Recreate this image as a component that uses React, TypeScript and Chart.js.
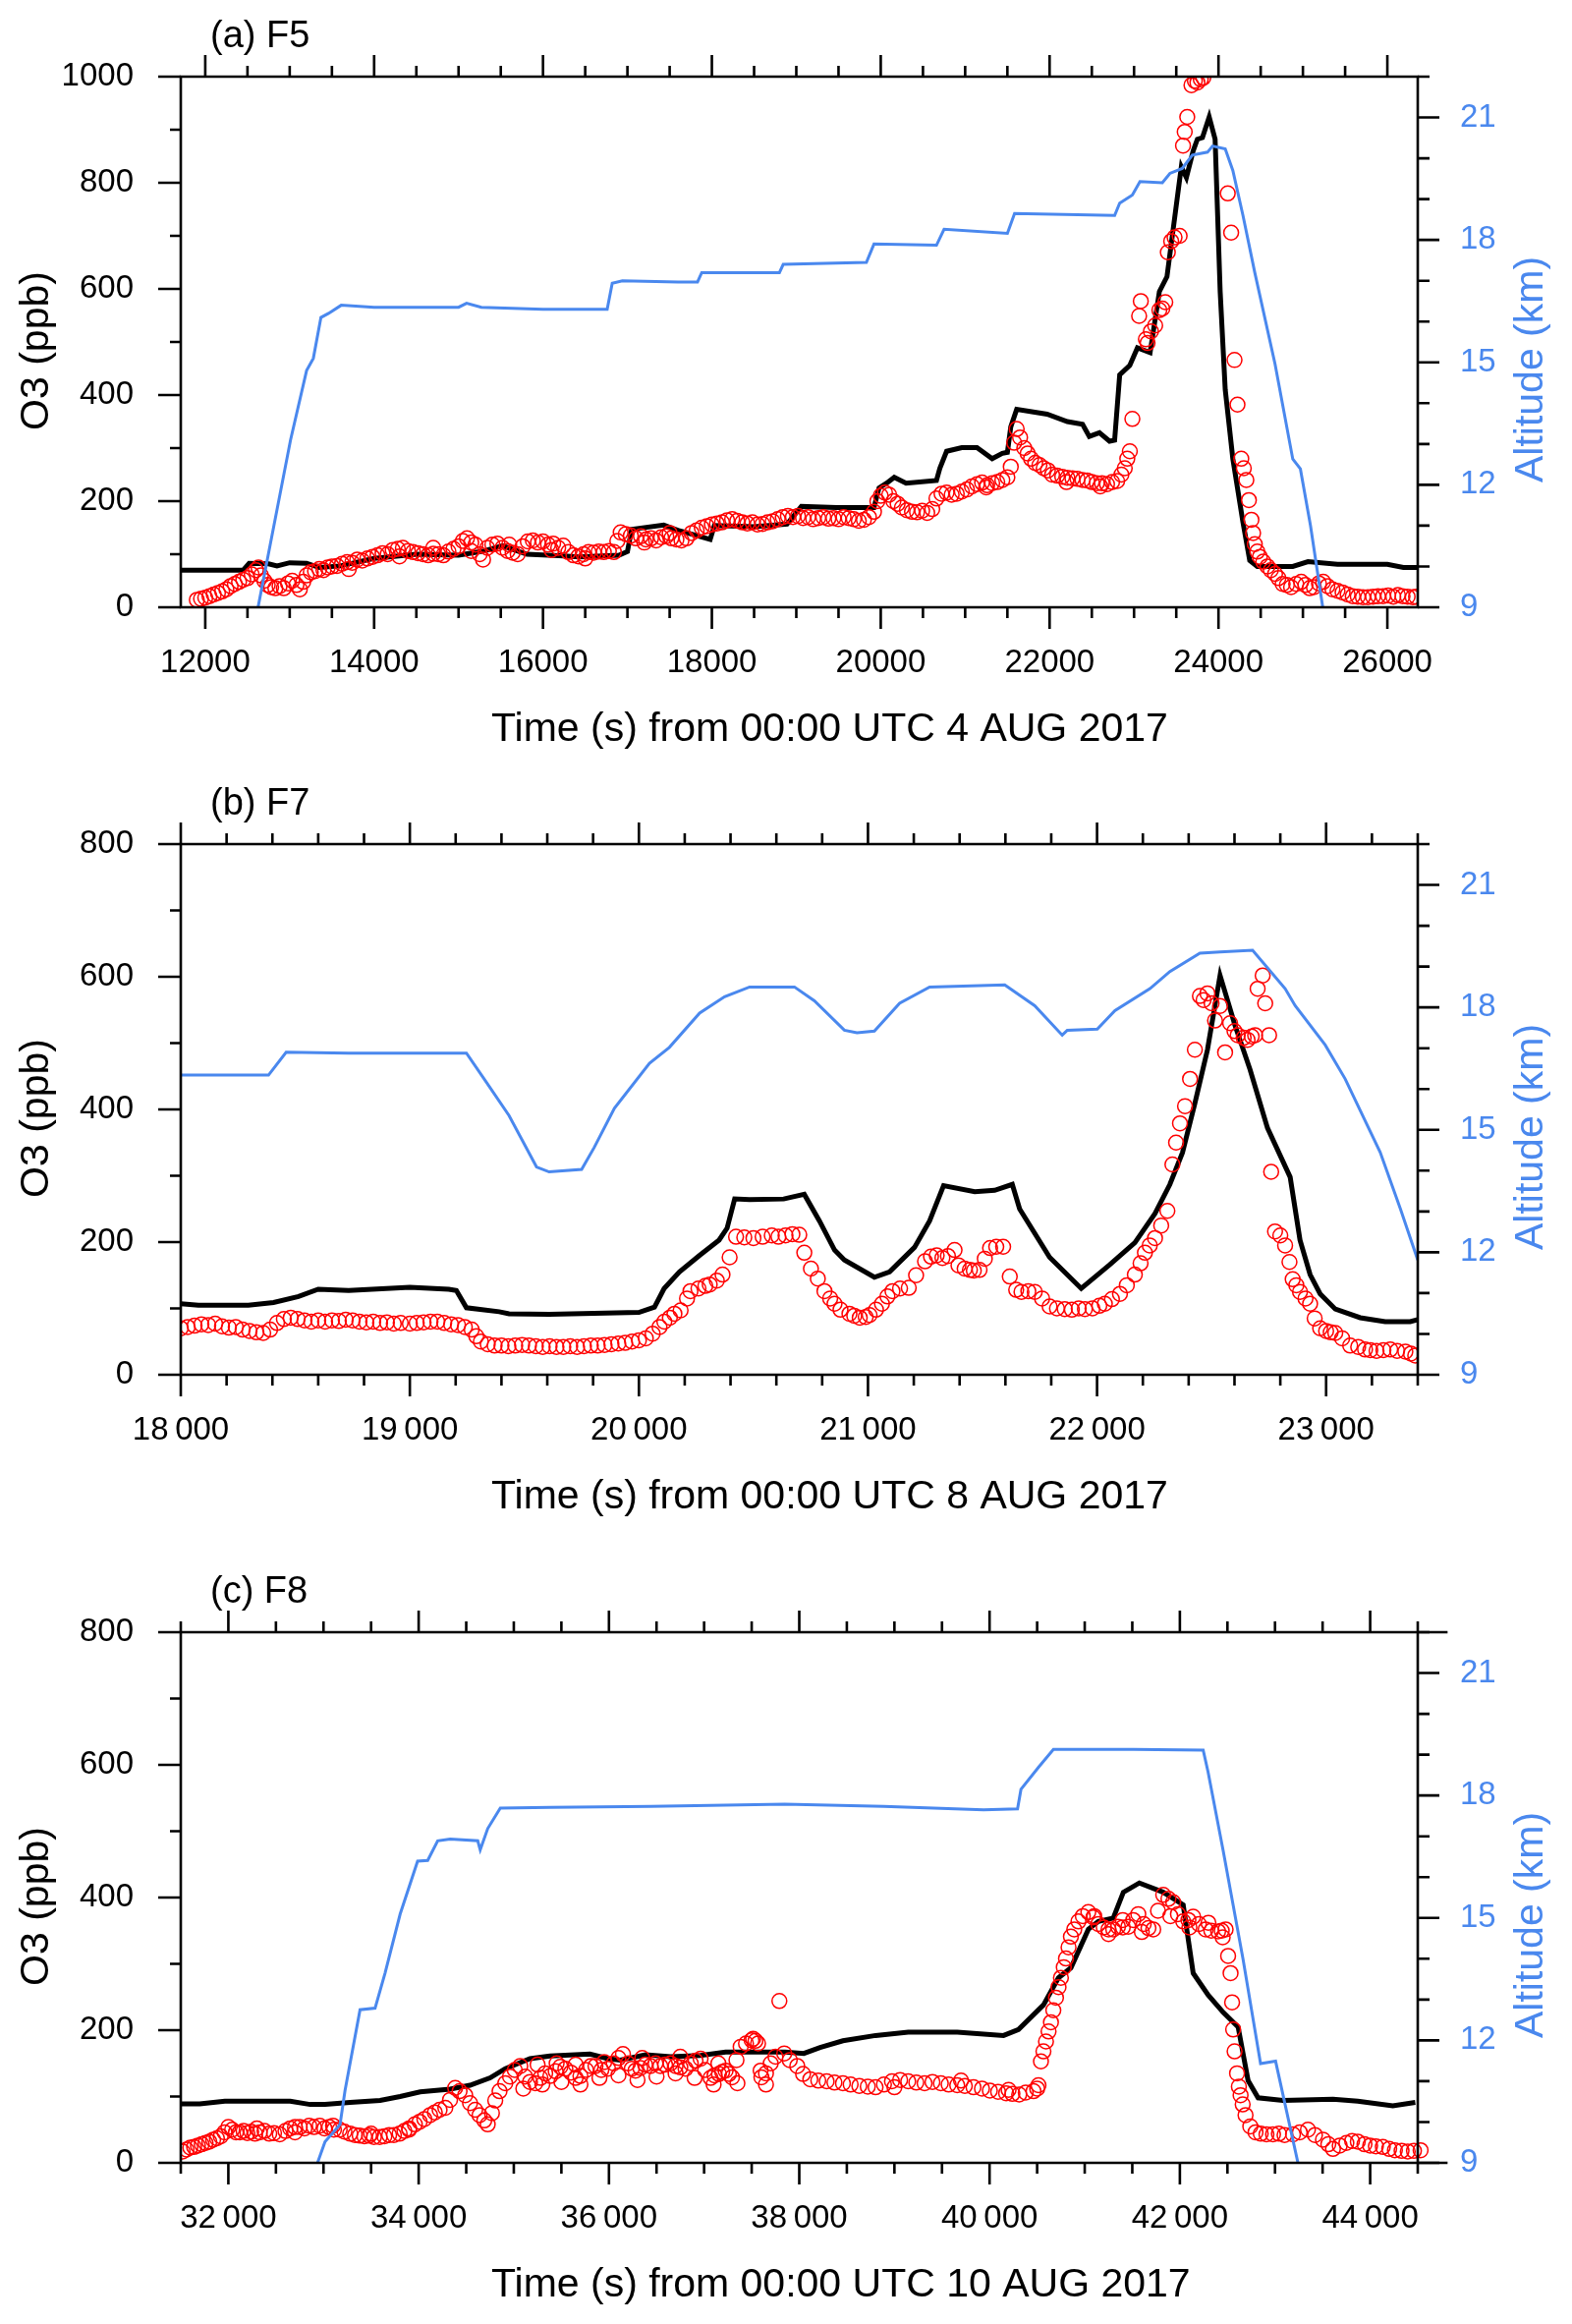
import React, { useEffect, useRef } from "react";
import { Chart, registerables } from "chart.js";

Chart.register(...registerables);

const FONT = "'Liberation Sans', Arial, Helvetica, sans-serif";
const BLUE = "#4a88ee";
const RED = "#ff0000";

// ---------- (a) F5, 4 AUG 2017 ----------
const f5ModelT = [11710, 12450, 12520, 12750, 12850, 13000, 13200, 13350, 13600, 14000, 14500, 15000, 15300, 15520, 15810, 16190, 16430, 16900, 17000, 17050, 17430, 17620, 17980, 18030, 18500, 18890, 19060, 19480, 19920, 19980, 20070, 20160, 20300, 20660, 20700, 20780, 20960, 21140, 21320, 21440, 21500, 21540, 21610, 21970, 22210, 22390, 22470, 22590, 22710, 22770, 22830, 22950, 23040, 23190, 23300, 23390, 23560, 23620, 23700, 23750, 23810, 23890, 23960, 24020, 24080, 24170, 24290, 24370, 24460, 24880, 25060, 25410, 26000, 26190, 26360];
const f5ModelO3 = [70, 70, 83, 82, 78, 84, 83, 75, 78, 92, 100, 98, 106, 116, 100, 97, 95, 98, 105, 147, 155, 144, 128, 154, 152, 157, 190, 188, 188, 225, 234, 245, 234, 239, 262, 294, 301, 301, 280, 290, 292, 340, 373, 364, 350, 345, 322, 329, 313, 315, 438, 456, 489, 480, 595, 623, 830, 810, 860, 882, 885, 924, 882, 595, 410, 280, 160, 88, 77, 77, 86, 81, 81, 75, 75];
const f5ObsT = [11900, 11950, 12000, 12050, 12100, 12150, 12200, 12250, 12300, 12350, 12400, 12450, 12500, 12550, 12600, 12630, 12660, 12700, 12740, 12780, 12830, 12880, 12930, 12980, 13030, 13080, 13120, 13160, 13200, 13250, 13300, 13350, 13400, 13450, 13500, 13560, 13620, 13680, 13740, 13800, 13860, 13920, 13980, 14040, 14100, 14160, 14220, 14280, 14340, 14400, 14460, 14520, 14580, 14640, 14700, 14760, 14820, 14880, 14940, 15000, 15050, 15100, 15150, 15200, 15250, 15290, 15340, 15400, 15460, 15520, 15580, 15640, 15700, 15760, 15820, 15880, 15940, 16000, 16060, 16120, 16180, 16240, 16300, 16360, 16420, 16480, 16540, 16600, 16660, 16720, 16780, 16840, 16880, 16920, 16980, 17040, 17100, 17160, 17220, 17280, 17340, 17400, 17460, 17520, 17580, 17640, 17700, 17760, 17820, 17880, 17940, 18000, 18060, 18120, 18180, 18240, 18300, 18360, 18420, 18480, 18540, 18600, 18660, 18720, 18780, 18840, 18900, 18960, 19020, 19080, 19140, 19200, 19260, 19320, 19380, 19440, 19500, 19560, 19620, 19680, 19740, 19800, 19860, 19920, 19960, 20000, 20050, 20100, 20150, 20200, 20250, 20310, 20370, 20430, 20490, 20550, 20610, 20660, 20720, 20780, 20840, 20900, 20960, 21020, 21080, 21140, 21200, 21260, 21320, 21380, 21440, 21500, 21540, 21580, 21610, 21650, 21700, 21740, 21780, 21830, 21880, 21930, 21980, 22030, 22090, 22150, 22210, 22270, 22330, 22390, 22445, 22500, 22560, 22620, 22680, 22740, 22800, 22850, 22890, 22920, 22950, 22980, 23060, 23080, 23140, 23160, 23200, 23250, 23300, 23335, 23370, 23400, 23440, 23480, 23540, 23580, 23600, 23630, 23680, 23720, 23750, 23790, 23820, 24110, 24150, 24190, 24225, 24270, 24300, 24330, 24360, 24390, 24410, 24430, 24460, 24490, 24530, 24580, 24620, 24670, 24710, 24760, 24810, 24860, 24920, 24980, 25030, 25080, 25130, 25190, 25240, 25290, 25350, 25410, 25470, 25530, 25590, 25650, 25710, 25770, 25830, 25890, 25950, 26010, 26070, 26125, 26180, 26240, 26300, 26340, 13700, 14300, 14700, 15150, 15600, 16100, 16500, 17200, 17500, 21250, 22200, 22600];
const f5ObsO3 = [14, 16, 18, 21, 24, 27, 30, 34, 40, 44, 48, 52, 55, 62, 70, 75, 60, 50, 42, 38, 36, 40, 36, 45, 50, 42, 34, 48, 60, 66, 68, 72, 70, 75, 77, 78, 82, 85, 84, 90, 88, 92, 95, 98, 102, 100, 108, 110, 112, 106, 104, 102, 100, 98, 101, 100, 98, 105, 110, 115, 125, 130, 122, 118, 100, 90, 112, 118, 120, 112, 106, 103, 100, 115, 124, 126, 122, 124, 118, 120, 112, 116, 104, 98, 96, 100, 104, 103, 105, 104, 106, 104, 125, 141, 138, 135, 130, 134, 128, 130, 126, 132, 134, 130, 128, 126, 130, 140, 145, 150, 153, 156, 158, 160, 164, 166, 163, 160, 158, 160, 156, 157, 160, 162, 166, 170, 172, 170, 172, 168, 170, 166, 168, 170, 167, 168, 166, 170, 168, 166, 163, 165, 170, 180, 200, 210, 216, 212, 200, 195, 188, 183, 180, 179, 182, 178, 185, 205, 214, 216, 212, 214, 218, 222, 228, 232, 235, 230, 234, 236, 240, 245, 265, 310, 336, 320, 300, 290, 280, 272, 268, 262, 258, 250, 248, 246, 244, 243, 242, 240, 239, 236, 234, 234, 232, 236, 238, 250, 262, 280, 294, 355, 549, 577, 505, 498, 520, 531, 560, 563, 575, 669, 690, 697, 700, 870, 896, 924, 984, 992, 989, 995, 998, 780, 706, 466, 382, 280, 262, 240, 202, 165, 140, 119, 105, 95, 86, 77, 70, 63, 55, 44, 42, 38, 44, 48, 42, 36, 38, 45, 48, 40, 34, 31, 28, 24, 21, 20, 19, 19, 20, 21, 21, 22, 20, 23, 21, 20, 19, 20, 72, 96, 112, 106, 118, 108, 92, 122, 140, 226, 236, 228];
const f5AltT = [12625, 13010, 13200, 13280, 13370, 13460, 13610, 14000, 15000, 15095, 15270, 16000, 16760, 16820, 16940, 17600, 17830, 17880, 18800, 18845, 19830, 19920, 20660, 20750, 21500, 21585, 22770, 22830, 22980, 23070, 23335, 23425, 23570, 23690, 23870, 23930, 24080, 24170, 24290, 24430, 24670, 24880, 24970, 25090, 25235];
const f5AltKm = [9.0, 13.1, 14.8, 15.1, 16.1, 16.2, 16.4, 16.35, 16.35, 16.45, 16.35, 16.3, 16.3, 16.94, 17.0, 16.97, 16.97, 17.2, 17.2, 17.4, 17.45, 17.9, 17.87, 18.26, 18.16, 18.65, 18.6, 18.9, 19.1, 19.43, 19.4, 19.63, 19.75, 20.08, 20.15, 20.3, 20.23, 19.7, 18.6, 17.2, 14.96, 12.63, 12.39, 11.0, 9.0];
const f5XTicks = [12000, 14000, 16000, 18000, 20000, 22000, 24000, 26000];
const f5XLabels = ["12000", "14000", "16000", "18000", "20000", "22000", "24000", "26000"];
const f5YTicks = [0, 200, 400, 600, 800, 1000];

// ---------- (b) F7, 8 AUG 2017 ----------
const f7ModelT = [18000, 18077, 18295, 18405, 18514, 18600, 18733, 19000, 19170, 19203, 19247, 19390, 19433, 19608, 20000, 20068, 20110, 20177, 20265, 20350, 20385, 20418, 20483, 20632, 20722, 20788, 20854, 20897, 21028, 21094, 21203, 21269, 21330, 21466, 21553, 21630, 21662, 21793, 21931, 22056, 22165, 22253, 22318, 22373, 22427, 22482, 22537, 22602, 22668, 22744, 22843, 22886, 22930, 22974, 23040, 23149, 23258, 23367, 23400];
const f7ModelO3 = [107, 105, 105, 109, 118, 129, 127, 132, 129, 127, 101, 95, 92, 91, 94, 102, 130, 155, 180, 203, 221, 265, 264, 265, 272, 232, 188, 173, 147, 155, 192, 232, 285, 276, 278, 287, 250, 177, 130, 166, 199, 243, 287, 335, 409, 490, 602, 527, 460, 372, 298, 203, 151, 122, 99, 86, 80, 80, 83];
const f7ObsT = [18000, 18030, 18060, 18090, 18120, 18150, 18180, 18210, 18240, 18270, 18300, 18330, 18360, 18390, 18420, 18450, 18480, 18510, 18540, 18570, 18600, 18630, 18660, 18690, 18720, 18750, 18780, 18810, 18840, 18870, 18900, 18930, 18960, 19000, 19030, 19060, 19090, 19120, 19150, 19180, 19210, 19240, 19270, 19290, 19310, 19340, 19370, 19400, 19430, 19460, 19490, 19520, 19550, 19580, 19610, 19640, 19670, 19700, 19730, 19760, 19790, 19820, 19850, 19880, 19910, 19940, 19970, 20000, 20030, 20060, 20090, 20111, 20135, 20155, 20182, 20210, 20225, 20260, 20290, 20309, 20340, 20365, 20396, 20424, 20460, 20500, 20540, 20580, 20609, 20640, 20670, 20700, 20722, 20751, 20781, 20810, 20835, 20854, 20880, 20919, 20940, 20964, 20990, 21007, 21035, 21061, 21085, 21107, 21140, 21178, 21210, 21249, 21275, 21300, 21325, 21349, 21378, 21395, 21422, 21445, 21462, 21487, 21510, 21533, 21560, 21590, 21619, 21647, 21670, 21700, 21728, 21760, 21793, 21825, 21859, 21890, 21920, 21947, 21980, 22010, 22034, 22065, 22100, 22130, 22165, 22190, 22209, 22230, 22253, 22280, 22307, 22329, 22345, 22362, 22384, 22406, 22427, 22449, 22465, 22482, 22500, 22515, 22537, 22559, 22581, 22600, 22614, 22640, 22657, 22675, 22690, 22701, 22723, 22734, 22751, 22760, 22777, 22800, 22821, 22840, 22854, 22870, 22886, 22910, 22930, 22950, 22974, 23000, 23020, 23040, 23070, 23105, 23140, 23170, 23193, 23220, 23250, 23280, 23310, 23346, 23370, 23389];
const f7ObsO3 = [70, 72, 74, 76, 75, 77, 73, 71, 72, 68, 66, 64, 63, 68, 78, 84, 86, 84, 82, 80, 82, 80, 82, 81, 83, 82, 80, 79, 80, 78, 79, 77, 78, 77, 78, 79, 80, 80, 78, 76, 75, 72, 68, 58, 50, 46, 44, 44, 43, 44, 45, 44, 43, 42, 43, 42, 42, 43, 42, 43, 44, 44, 45, 46, 47, 48, 50, 52, 55, 62, 72, 80, 86, 92, 97, 115, 126, 130, 134, 136, 142, 151, 177, 208, 207, 206, 208, 210, 208, 210, 212, 211, 184, 160, 145, 126, 115, 107, 98, 92, 89, 86, 87, 90, 98, 107, 118, 126, 130, 131, 150, 171, 178, 180, 176, 179, 188, 165, 160, 158, 157, 158, 175, 191, 193, 193, 148, 128, 125, 126, 125, 115, 103, 100, 99, 98, 100, 99, 100, 104, 107, 114, 122, 135, 151, 168, 184, 195, 206, 225, 247, 317, 350, 379, 405, 446, 490, 571, 565, 575, 560, 534, 556, 486, 530, 518, 512, 508, 505, 510, 512, 582, 602, 560, 512, 306, 216, 210, 195, 170, 144, 135, 125, 115, 107, 85, 70, 66, 64, 63, 55, 44, 42, 38, 37, 36, 37, 38, 36, 35, 32, 29];
const f7AltT = [18000, 18383, 18460, 18733, 19247, 19324, 19433, 19553, 19608, 19750, 19805, 19893, 20046, 20133, 20265, 20374, 20483, 20593, 20679, 20766, 20897, 20952, 21028, 21138, 21269, 21597, 21728, 21848, 21870, 22001, 22078, 22231, 22318, 22449, 22537, 22679, 22821, 22865, 22996, 23083, 23236, 23324, 23400];
const f7AltKm = [16.34, 16.34, 16.9, 16.88, 16.88, 16.25, 15.35, 14.09, 13.97, 14.03, 14.57, 15.53, 16.63, 17.02, 17.86, 18.26, 18.5, 18.5, 18.5, 18.16, 17.44, 17.38, 17.42, 18.1, 18.5, 18.55, 18.04, 17.32, 17.44, 17.47, 17.92, 18.46, 18.88, 19.33, 19.36, 19.4, 18.46, 18.04, 17.08, 16.25, 14.45, 13.07, 11.81];
const f7XTicks = [18000, 19000, 20000, 21000, 22000, 23000];
const f7XLabels = ["18\u2009000", "19\u2009000", "20\u2009000", "21\u2009000", "22\u2009000", "23\u2009000"];
const f7YTicks = [0, 200, 400, 600, 800];

// ---------- (c) F8, 10 AUG 2017 ----------
const f8ModelT = [31505, 31700, 31963, 32650, 32860, 33016, 33280, 33595, 33805, 34016, 34330, 34540, 34750, 34910, 35170, 35380, 35800, 35990, 36120, 36384, 36650, 36960, 37226, 37490, 37850, 38048, 38219, 38459, 38802, 39145, 39660, 40147, 40304, 40566, 40724, 40855, 41038, 41143, 41300, 41406, 41574, 41825, 42035, 42140, 42297, 42455, 42612, 42717, 42822, 43084, 43609, 43870, 44238, 44474];
const f8ModelO3 = [89, 89, 93, 93, 88, 88, 91, 94, 100, 107, 111, 117, 128, 142, 157, 161, 164, 157, 155, 163, 160, 162, 167, 167, 167, 165, 174, 184, 192, 197, 197, 192, 201, 238, 279, 294, 352, 364, 369, 408, 422, 408, 389, 286, 253, 227, 205, 124, 98, 94, 96, 93, 86, 91];
const f8ObsT = [31520, 31560, 31600, 31640, 31680, 31720, 31760, 31800, 31840, 31880, 31920, 31960, 32000, 32040, 32080, 32120, 32160, 32200, 32240, 32280, 32330, 32380, 32430, 32480, 32540, 32600, 32650, 32700, 32750, 32800, 32850, 32900, 32960, 33010, 33060, 33110, 33170, 33220, 33280, 33330, 33380, 33430, 33480, 33530, 33590, 33640, 33690, 33740, 33800, 33850, 33900, 33960, 34010, 34060, 34120, 34170, 34220, 34280, 34330, 34384, 34430, 34489, 34540, 34594, 34640, 34690, 34726, 34770, 34805, 34850, 34910, 34960, 35010, 35068, 35120, 35170, 35226, 35280, 35330, 35384, 35440, 35490, 35542, 35600, 35650, 35700, 35760, 35810, 35858, 35920, 35990, 36050, 36100, 36147, 36200, 36240, 36279, 36330, 36380, 36437, 36490, 36540, 36590, 36647, 36700, 36750, 36805, 36860, 36910, 36963, 37010, 37068, 37110, 37156, 37190, 37226, 37260, 37293, 37340, 37384, 37440, 37499, 37515, 37540, 37567, 37594, 37602, 37650, 37700, 37750, 37791, 37842, 37900, 37979, 38040, 38116, 38200, 38288, 38370, 38459, 38540, 38631, 38720, 38802, 38890, 38974, 39060, 39145, 39230, 39317, 39400, 39488, 39570, 39660, 39740, 39831, 39920, 40003, 40090, 40174, 40240, 40311, 40380, 40462, 40500, 40514, 40540, 40566, 40593, 40620, 40645, 40670, 40698, 40725, 40750, 40780, 40803, 40830, 40855, 40890, 40934, 40980, 41038, 41090, 41143, 41200, 41250, 41300, 41350, 41400, 41458, 41510, 41563, 41620, 41670, 41720, 41770, 41825, 41880, 41930, 41980, 42035, 42090, 42140, 42200, 42271, 42330, 42402, 42440, 42481, 42507, 42533, 42549, 42560, 42575, 42601, 42620, 42638, 42660, 42690, 42740, 42795, 42850, 42910, 42979, 43040, 43100, 43189, 43260, 43346, 43420, 43504, 43560, 43609, 43680, 43750, 43810, 43870, 43940, 44000, 44060, 44133, 44200, 44260, 44330, 44395, 44460, 44530, 44600, 44657, 44720, 44789, 32300, 32700, 33100, 33500, 33900, 35100, 35300, 35500, 35700, 35900, 36100, 36300, 36500, 36700, 36900, 37100, 37350, 37650, 35250, 35450, 35650, 35950, 36350, 36750, 37150, 41100, 41250, 41400, 41600, 41900, 42100, 42300, 42450, 39000, 39700, 40200];
const f8ObsO3 = [17, 20, 23, 24, 26, 28, 30, 32, 35, 37, 40, 46, 54, 50, 46, 46, 48, 45, 47, 44, 46, 48, 44, 45, 43, 48, 52, 54, 54, 52, 56, 54, 56, 52, 54, 50, 50, 47, 44, 42, 41, 40, 41, 39, 39, 40, 42, 42, 44, 48, 52, 58, 62, 66, 72, 76, 80, 83, 95, 113, 108, 102, 90, 80, 72, 64, 58, 75, 94, 108, 120, 130, 140, 146, 130, 122, 120, 128, 135, 131, 138, 145, 142, 136, 128, 131, 140, 146, 146, 140, 142, 150, 158, 164, 150, 142, 139, 143, 148, 146, 150, 146, 148, 150, 146, 144, 142, 150, 154, 157, 140, 128, 132, 134, 137, 139, 134, 129, 155, 175, 180, 185, 187, 184, 180, 139, 129, 135, 150, 160, 244, 165, 155, 146, 134, 126, 124, 123, 121, 120, 118, 116, 115, 114, 118, 123, 125, 123, 121, 120, 122, 120, 118, 117, 116, 114, 112, 109, 107, 105, 104, 103, 106, 108, 112, 117, 153, 168, 183, 198, 212, 230, 249, 265, 279, 295, 308, 325, 341, 352, 364, 372, 378, 370, 360, 355, 352, 352, 356, 355, 356, 366, 375, 360, 354, 352, 380, 404, 398, 393, 375, 364, 366, 371, 360, 352, 350, 349, 350, 352, 312, 286, 242, 201, 168, 135, 115, 102, 88, 72, 55, 46, 44, 43, 43, 44, 42, 43, 46, 50, 42, 35, 28, 21, 26, 30, 33, 32, 28, 26, 25, 24, 21, 19, 18, 17, 18, 19, 20, 19, 18, 19, 52, 46, 56, 44, 50, 112, 118, 122, 118, 128, 132, 125, 130, 135, 128, 118, 120, 118, 148, 150, 148, 152, 158, 160, 150, 372, 345, 366, 348, 372, 355, 362, 340, 114, 124, 110];
const f8AltT = [32937, 33016, 33174, 33226, 33384, 33542, 33647, 33805, 33989, 34095, 34200, 34331, 34621, 34647, 34726, 34858, 35384, 36437, 37847, 38888, 39937, 40294, 40330, 40514, 40671, 41511, 42245, 42297, 42455, 42664, 42848, 43006, 43241];
const f8AltKm = [9.0, 9.52, 9.94, 10.77, 12.75, 12.79, 13.65, 15.09, 16.39, 16.41, 16.89, 16.93, 16.89, 16.67, 17.19, 17.69, 17.71, 17.73, 17.79, 17.73, 17.65, 17.67, 18.15, 18.69, 19.13, 19.13, 19.11, 18.57, 16.65, 13.99, 11.43, 11.49, 9.0];
const f8XTicks = [32000, 34000, 36000, 38000, 40000, 42000, 44000];
const f8XLabels = ["32\u2009000", "34\u2009000", "36\u2009000", "38\u2009000", "40\u2009000", "42\u2009000", "44\u2009000"];
const f8YTicks = [0, 200, 400, 600, 800];

const altTicks = [9, 12, 15, 18, 21];

interface FrameOpts {
  label: string;
  xTitle: string;
  xMajor: number[];
  xMinorStep: number;
  yMajor: number[];
  xEdge?: number;
}

// draws the box, outward tick marks, and the titles
const framePlugin = {
  id: "frame",
  afterDraw(chart: any, _args: any, opts: FrameOpts) {
    const { ctx, chartArea: a, scales } = chart;
    const x = scales.x;
    const y = scales.y;
    const y2 = scales.y2;
    const edge = opts.xEdge !== undefined ? x.getPixelForValue(opts.xEdge) : a.right;
    ctx.save();
    ctx.strokeStyle = "#000";
    ctx.lineWidth = 2.6;
    ctx.lineCap = "square";
    ctx.beginPath();
    ctx.moveTo(a.left, a.top);
    ctx.lineTo(edge, a.top);
    ctx.moveTo(a.left, a.bottom);
    ctx.lineTo(edge, a.bottom);
    ctx.moveTo(a.left, a.top);
    ctx.lineTo(a.left, a.bottom);
    ctx.moveTo(a.right, a.top);
    ctx.lineTo(a.right, a.bottom);
    ctx.stroke();

    ctx.lineCap = "butt";
    ctx.beginPath();
    const step = opts.xMinorStep;
    for (let v = Math.ceil(x.min / step) * step; v <= x.max + 0.1; v += step) {
      const px = x.getPixelForValue(v);
      const len = opts.xMajor.includes(v) ? 22 : 11;
      ctx.moveTo(px, a.bottom);
      ctx.lineTo(px, a.bottom + len);
      ctx.moveTo(px, a.top);
      ctx.lineTo(px, a.top - len);
    }
    for (let v = y.min; v <= y.max + 0.1; v += 100) {
      const py = y.getPixelForValue(v);
      const len = opts.yMajor.includes(v) ? 23 : 11;
      ctx.moveTo(a.left, py);
      ctx.lineTo(a.left - len, py);
    }
    for (let v = y2.min; v <= y2.max + 0.01; v += 1) {
      const py = y2.getPixelForValue(v);
      const len = altTicks.includes(v) ? 22 : 12;
      ctx.moveTo(a.right, py);
      ctx.lineTo(a.right + len, py);
    }
    ctx.stroke();

    ctx.fillStyle = "#000";
    ctx.textBaseline = "alphabetic";
    ctx.textAlign = "left";
    ctx.font = `38px ${FONT}`;
    ctx.fillText(opts.label, 214, a.top - 30);
    ctx.font = `41px ${FONT}`;
    ctx.fillText(opts.xTitle, 500, a.bottom + 136);

    const cy = (a.top + a.bottom) / 2;
    ctx.textAlign = "center";
    ctx.save();
    ctx.translate(49, cy + 9);
    ctx.rotate(-Math.PI / 2);
    ctx.fillText("O3 (ppb)", 0, 0);
    ctx.restore();
    ctx.save();
    ctx.fillStyle = BLUE;
    ctx.translate(1570, cy + 28);
    ctx.rotate(-Math.PI / 2);
    ctx.fillText("Altitude (km)", 0, 0);
    ctx.restore();
    ctx.restore();
  },
};

interface PanelProps {
  top: number;
  height: number;
  label: string;
  xTitle: string;
  xMin: number;
  xMax: number;
  xEdge?: number;
  xMajor: number[];
  xLabels: string[];
  xMinorStep: number;
  yMax: number;
  yMajor: number[];
  modelT: number[];
  modelO3: number[];
  obsT: number[];
  obsO3: number[];
  altT: number[];
  altKm: number[];
}

const pairs = (t: number[], v: number[]) => t.map((x, i) => ({ x, y: v[i] }));

const Panel: React.FC<PanelProps> = (p) => {
  const canvasRef = useRef<HTMLCanvasElement>(null);

  useEffect(() => {
    if (!canvasRef.current) return;
    const tickFont = { family: FONT, size: 33 };
    const chart = new Chart(canvasRef.current, {
      type: "scatter",
      data: {
        datasets: [
          {
            label: "Altitude",
            data: pairs(p.altT, p.altKm),
            yAxisID: "y2",
            showLine: true,
            borderColor: BLUE,
            borderWidth: 3,
            pointRadius: 0,
            pointHoverRadius: 0,
          },
          {
            label: "Observed O3",
            data: pairs(p.obsT, p.obsO3),
            yAxisID: "y",
            showLine: false,
            pointRadius: 7.5,
            pointHoverRadius: 7.5,
            pointBorderWidth: 1.5,
            pointBorderColor: RED,
            pointBackgroundColor: "rgba(0,0,0,0)",
            clip: p.xEdge !== undefined ? { left: 0, top: 0, right: 40, bottom: 2 } : 0,
          },
          {
            label: "Model O3",
            data: pairs(p.modelT, p.modelO3),
            yAxisID: "y",
            showLine: true,
            borderColor: "#000",
            borderWidth: 5,
            pointRadius: 0,
            pointHoverRadius: 0,
          },
        ],
      } as any,
      options: {
        animation: false,
        responsive: true,
        maintainAspectRatio: false,
        events: [],
        layout: { padding: { top: 78, left: 0, right: 0, bottom: 0 } },
        plugins: {
          legend: { display: false },
          tooltip: { enabled: false },
          frame: {
            label: p.label,
            xTitle: p.xTitle,
            xMajor: p.xMajor,
            xMinorStep: p.xMinorStep,
            yMajor: p.yMajor,
            xEdge: p.xEdge,
          },
        } as any,
        scales: {
          x: {
            type: "linear",
            position: "bottom",
            min: p.xMin,
            max: p.xMax,
            grid: { display: false, drawTicks: false },
            border: { display: false },
            ticks: {
              padding: 37,
              color: "#000",
              font: tickFont,
              autoSkip: false,
              maxRotation: 0,
              minRotation: 0,
              callback: (v: any) => p.xLabels[p.xMajor.indexOf(Number(v))] ?? "",
            },
            afterBuildTicks: (s: any) => {
              s.ticks = p.xMajor.map((value) => ({ value }));
            },
            afterFit: (s: any) => {
              s.height = p.height - 618;
            },
          },
          y: {
            type: "linear",
            position: "left",
            min: 0,
            max: p.yMax,
            grid: { display: false, drawTicks: false },
            border: { display: false },
            ticks: { padding: 48, color: "#000", font: tickFont, callback: (v: any) => String(v) },
            afterBuildTicks: (s: any) => {
              s.ticks = p.yMajor.map((value) => ({ value }));
            },
            afterFit: (s: any) => {
              s.width = 184;
            },
          },
          y2: {
            type: "linear",
            position: "right",
            min: 9,
            max: 22,
            grid: { display: false, drawTicks: false },
            border: { display: false },
            ticks: { padding: 43, color: BLUE, font: tickFont, callback: (v: any) => String(v) },
            afterBuildTicks: (s: any) => {
              s.ticks = altTicks.map((value) => ({ value }));
            },
            afterFit: (s: any) => {
              s.width = 157;
            },
          },
        } as any,
      },
      plugins: [framePlugin as any],
    });
    return () => chart.destroy();
  }, [p]);

  return (
    <div style={{ position: "absolute", left: 0, top: p.top, width: 1600, height: p.height }}>
      <canvas ref={canvasRef} />
    </div>
  );
};

const panels: PanelProps[] = [
  {
    top: 0,
    height: 781,
    label: "(a) F5",
    xTitle: "Time (s) from 00:00 UTC 4 AUG 2017",
    xMin: 11710,
    xMax: 26360,
    xMajor: f5XTicks,
    xLabels: f5XLabels,
    xMinorStep: 500,
    yMax: 1000,
    yMajor: f5YTicks,
    modelT: f5ModelT,
    modelO3: f5ModelO3,
    obsT: f5ObsT,
    obsO3: f5ObsO3,
    altT: f5AltT,
    altKm: f5AltKm,
  },
  {
    top: 781,
    height: 802,
    label: "(b) F7",
    xTitle: "Time (s) from 00:00 UTC 8 AUG 2017",
    xMin: 18000,
    xMax: 23400,
    xMajor: f7XTicks,
    xLabels: f7XLabels,
    xMinorStep: 200,
    yMax: 800,
    yMajor: f7YTicks,
    modelT: f7ModelT,
    modelO3: f7ModelO3,
    obsT: f7ObsT,
    obsO3: f7ObsO3,
    altT: f7AltT,
    altKm: f7AltKm,
  },
  {
    top: 1583,
    height: 782,
    label: "(c) F8",
    xTitle: "Time (s) from 00:00 UTC 10 AUG 2017",
    xMin: 31500,
    xMax: 44500,
    xEdge: 44800,
    xMajor: f8XTicks,
    xLabels: f8XLabels,
    xMinorStep: 500,
    yMax: 800,
    yMajor: f8YTicks,
    modelT: f8ModelT,
    modelO3: f8ModelO3,
    obsT: f8ObsT,
    obsO3: f8ObsO3,
    altT: f8AltT,
    altKm: f8AltKm,
  },
];

export default function App() {
  return (
    <div style={{ position: "absolute", left: 0, top: 0, width: 1600, height: 2365, background: "#fff", fontFamily: FONT }}>
      {panels.map((p) => (
        <Panel key={p.label} {...p} />
      ))}
    </div>
  );
}
